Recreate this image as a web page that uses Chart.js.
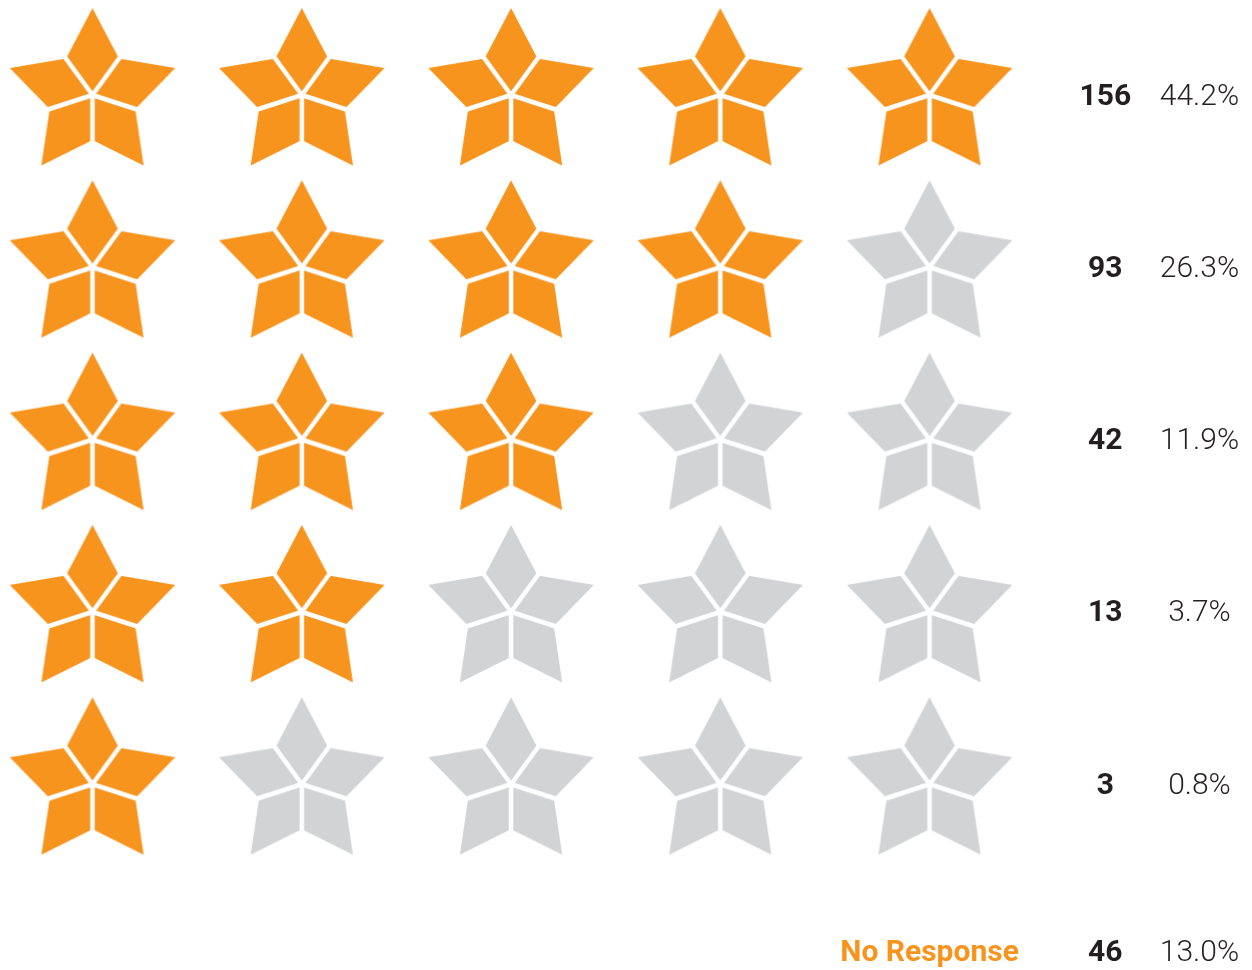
<!DOCTYPE html>
<html>
<head>
<meta charset="utf-8">
<script src="https://cdn.jsdelivr.net/npm/chart.js@4.4.1/dist/chart.umd.min.js"></script>
<style>
  html, body { margin: 0; padding: 0; background: #ffffff; }
  #wrap { width: 1252px; height: 970px; }
</style>
</head>
<body>
<div id="wrap"><canvas id="stars" width="1252" height="970"></canvas></div>
<script>
// Star ratings, top row = 5 stars
var ratings = [5, 4, 3, 2, 1];
var counts = [156, 93, 42, 13, 3];
var percents = ['44.2%', '26.3%', '11.9%', '3.7%', '0.8%'];
var noResponseLabel = 'No Response';
var noResponseCount = 46;
var noResponsePercent = '13.0%';

var ORANGE = '#f7941d';
var GREY = '#d1d3d4';
var INK = '#231f20';

// where the text columns sit on the scales
var countCol = 5.84;
var percentCol = 6.29;
var noResponseRow = 5.97;

// build one star sprite: five kites split by thin gaps from the centre
function makeStar(color) {
  var size = 184, c = size / 2, R = 87, r = 45;
  var cv = document.createElement('canvas');
  cv.width = size; cv.height = size;
  var ctx = cv.getContext('2d');
  function pt(rad, deg) {
    var a = deg * Math.PI / 180;
    return [c + rad * Math.cos(a), c + rad * Math.sin(a)];
  }
  ctx.fillStyle = color;
  ctx.beginPath();
  for (var i = 0; i < 5; i++) {
    var o = pt(R, -90 + i * 72);
    var n = pt(r, -54 + i * 72);
    if (i === 0) ctx.moveTo(o[0], o[1]); else ctx.lineTo(o[0], o[1]);
    ctx.lineTo(n[0], n[1]);
  }
  ctx.closePath();
  ctx.fill();
  // cut the gaps
  ctx.globalCompositeOperation = 'destination-out';
  ctx.lineWidth = 4.5;
  ctx.lineCap = 'butt';
  for (var j = 0; j < 5; j++) {
    var e = pt(r + 6, -54 + j * 72);
    ctx.beginPath();
    ctx.moveTo(c, c);
    ctx.lineTo(e[0], e[1]);
    ctx.stroke();
  }
  return cv;
}

var onStar = makeStar(ORANGE);
var offStar = makeStar(GREY);

var points = [];
var styles = [];
ratings.forEach(function (rating, row) {
  for (var col = 1; col <= 5; col++) {
    points.push({ x: col, y: row + 1 });
    styles.push(col <= rating ? onStar : offStar);
  }
});

// counts and percentages drawn against the same scales as the stars
var labelPlugin = {
  id: 'rowLabels',
  afterDatasetsDraw: function (chart) {
    var ctx = chart.ctx, xs = chart.scales.x, ys = chart.scales.y;
    var nudge = 2; // digits sit a little high on the middle baseline
    ctx.save();
    ctx.textAlign = 'center';
    ctx.textBaseline = 'middle';
    counts.forEach(function (n, i) {
      var y = ys.getPixelForValue(i + 1) + nudge;
      ctx.fillStyle = INK;
      ctx.font = 'bold 30px Roboto';
      ctx.fillText(String(n), xs.getPixelForValue(countCol), y);
      ctx.font = '300 30px Roboto';
      ctx.fillText(percents[i], xs.getPixelForValue(percentCol), y);
    });
    var yNr = ys.getPixelForValue(noResponseRow) + nudge;
    ctx.fillStyle = ORANGE;
    ctx.font = 'bold 30px Roboto';
    ctx.fillText(noResponseLabel, xs.getPixelForValue(5), yNr);
    ctx.fillStyle = INK;
    ctx.fillText(String(noResponseCount), xs.getPixelForValue(countCol), yNr);
    ctx.font = '300 30px Roboto';
    ctx.fillText(noResponsePercent, xs.getPixelForValue(percentCol), yNr);
    ctx.restore();
  }
};

new Chart(document.getElementById('stars'), {
  type: 'scatter',
  data: {
    datasets: [{
      data: points,
      pointStyle: styles,
      pointRadius: 10,
      pointHoverRadius: 10,
      clip: false
    }]
  },
  options: {
    responsive: false,
    devicePixelRatio: 1,
    animation: false,
    layout: { padding: 0, autoPadding: false },
    plugins: { legend: { display: false }, tooltip: { enabled: false } },
    events: [],
    scales: {
      x: { type: 'linear', display: false, min: 0.558, max: 6.541 },
      y: { type: 'linear', display: false, reverse: true, min: 0.4486, max: 6.0783 }
    }
  },
  plugins: [labelPlugin]
});
</script>
</body>
</html>
